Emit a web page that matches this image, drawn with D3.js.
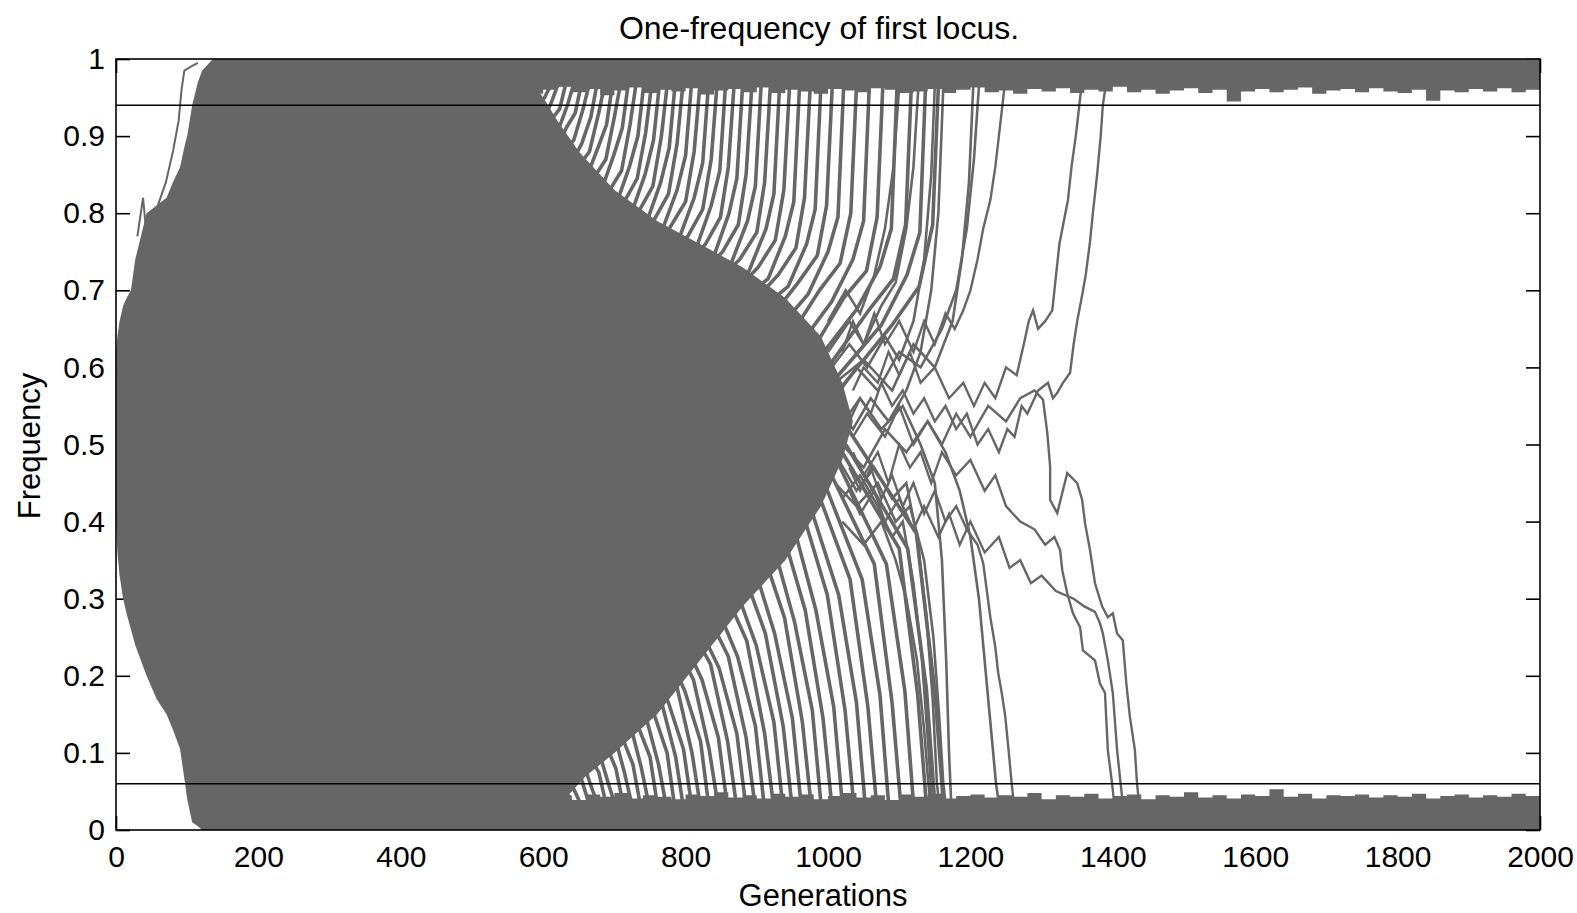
<!DOCTYPE html>
<html>
<head>
<meta charset="utf-8">
<script src="https://cdn.jsdelivr.net/npm/d3@7"></script>
<style>
body { margin: 0; background: #fff; }
text { font-family: "Liberation Sans", Arial, sans-serif; fill: #000; }
</style>
</head>
<body>
<svg id="chart" width="1577" height="913"></svg>
<script>
// axis ticks
var genTicks = [0, 200, 400, 600, 800, 1000, 1200, 1400, 1600, 1800, 2000];
var freqTicks = [0, 0.1, 0.2, 0.3, 0.4, 0.5, 0.6, 0.7, 0.8, 0.9, 1];
var thresholds = [0.06, 0.94];

// envelope of the dense bundle of runs
var coreGens = [0, 2, 5, 10, 15, 21, 27, 35, 43, 57, 71, 80, 90, 97, 100, 107, 115, 121, 136,
                560, 600, 620, 650, 660, 700, 760, 820, 880, 940, 990, 1020, 1035];
var coreHigh = [0.62, 0.64, 0.66, 0.68, 0.69, 0.70, 0.74, 0.77, 0.80, 0.81, 0.82, 0.84, 0.86, 0.89, 0.90, 0.94, 0.97, 0.985, 1,
                1, 0.95, 0.92, 0.88, 0.87, 0.83, 0.79, 0.76, 0.73, 0.69, 0.64, 0.58, 0.53];
var coreLow  = [0.40, 0.36, 0.33, 0.30, 0.28, 0.26, 0.24, 0.22, 0.20, 0.17, 0.15, 0.13, 0.105, 0.06, 0.04, 0.01, 0.005, 0, 0,
                0, 0, 0.03, 0.06, 0.07, 0.10, 0.15, 0.22, 0.29, 0.35, 0.42, 0.48, 0.53];

// fixed runs: edge of the band near 1 and near 0, every 20 generations from 540
var bandStart = 540, bandStep = 20;
var topEdge = [0.958,0.962,0.955,0.960,0.964,0.957,0.961,0.953,0.959,0.963,
               0.956,0.960,0.958,0.962,0.954,0.959,0.961,0.957,0.963,0.956,
               0.960,0.958,0.955,0.961,0.959,0.957,0.962,0.960,0.956,0.958,
               0.961,0.956,0.960,0.963,0.957,0.959,0.955,0.961,0.958,0.962,
               0.956,0.960,0.958,0.964,0.957,0.960,0.955,0.959,0.962,0.956,
               0.960,0.945,0.958,0.961,0.957,0.960,0.963,0.955,0.959,0.961,
               0.957,0.962,0.958,0.956,0.960,0.946,0.959,0.957,0.961,0.958,
               0.962,0.957,0.960,0.958];
var bottomEdge = [0.044,0.040,0.047,0.042,0.045,0.039,0.046,0.043,0.048,0.041,
                  0.045,0.043,0.040,0.046,0.044,0.049,0.042,0.045,0.041,0.047,
                  0.043,0.046,0.040,0.044,0.048,0.042,0.045,0.039,0.046,0.043,
                  0.047,0.041,0.044,0.046,0.042,0.045,0.043,0.048,0.040,0.045,
                  0.043,0.047,0.041,0.044,0.046,0.040,0.045,0.043,0.049,0.042,
                  0.045,0.041,0.046,0.044,0.053,0.043,0.047,0.041,0.045,0.044,
                  0.046,0.042,0.045,0.043,0.047,0.041,0.044,0.046,0.042,0.045,
                  0.043,0.047,0.044,0.046];

// left outlier run near the top
var earlyRun = [[30,0.77],[38,0.82],[42,0.78],[55,0.80],[70,0.84],[80,0.88],[88,0.92],[92,0.96],[96,0.985],[105,0.99],[115,0.995]];

// runs leaving the bundle upwards [generation, frequency]
var riseToOne = [
  [[540,0.90],[570,0.92],[590,0.935],[602,0.95],[610,0.965]],
  [[550,0.88],[580,0.905],[598,0.915],[612,0.945],[620,0.965]],
  [[560,0.87],[590,0.89],[610,0.92],[623,0.935],[631,0.965]],
  [[570,0.86],[600,0.885],[620,0.905],[634,0.94],[642,0.965]],
  [[580,0.85],[612,0.87],[632,0.91],[645,0.93],[653,0.965]],
  [[590,0.84],[622,0.87],[643,0.895],[656,0.935],[664,0.965]],
  [[600,0.83],[634,0.855],[654,0.89],[667,0.925],[675,0.965]],
  [[610,0.82],[645,0.855],[665,0.88],[678,0.93],[686,0.965]],
  [[620,0.81],[656,0.835],[677,0.885],[689,0.915],[697,0.965]],
  [[630,0.80],[667,0.84],[688,0.87],[700,0.925],[708,0.965]],
  [[640,0.79],[678,0.82],[699,0.875],[711,0.91],[719,0.965]],
  [[650,0.78],[690,0.825],[710,0.855],[722,0.915],[730,0.965]],
  [[660,0.775],[700,0.805],[721,0.86],[733,0.90],[741,0.965]],
  [[670,0.77],[711,0.81],[732,0.845],[744,0.905],[752,0.965]],
  [[680,0.765],[722,0.795],[743,0.85],[755,0.895],[763,0.965]],
  [[690,0.76],[733,0.80],[754,0.835],[766,0.90],[774,0.965]],
  [[700,0.755],[744,0.785],[765,0.84],[777,0.885],[785,0.965]],
  [[710,0.75],[755,0.79],[776,0.825],[788,0.89],[796,0.965]],
  [[720,0.745],[766,0.775],[788,0.83],[800,0.875],[808,0.965]],
  [[730,0.74],[777,0.78],[800,0.815],[812,0.88],[820,0.965]],
  [[745,0.735],[790,0.765],[812,0.82],[824,0.865],[832,0.965]],
  [[760,0.73],[803,0.77],[824,0.805],[836,0.87],[844,0.965]],
  [[775,0.725],[815,0.755],[836,0.81],[848,0.855],[856,0.965]],
  [[790,0.72],[828,0.76],[849,0.795],[860,0.86],[868,0.965]],
  [[800,0.715],[840,0.745],[861,0.80],[872,0.845],[880,0.965]],
  [[810,0.71],[852,0.75],[874,0.785],[885,0.85],[893,0.965]],
  [[820,0.705],[864,0.735],[887,0.79],[898,0.835],[906,0.965]],
  [[830,0.70],[876,0.74],[900,0.775],[911,0.84],[919,0.965]],
  [[845,0.695],[889,0.725],[913,0.78],[924,0.825],[932,0.965]],
  [[860,0.69],[902,0.73],[926,0.765],[938,0.83],[946,0.965]],
  [[875,0.685],[916,0.715],[940,0.77],[952,0.815],[960,0.965]],
  [[890,0.68],[930,0.72],[955,0.755],[967,0.82],[975,0.965]],
  [[905,0.675],[944,0.705],[970,0.76],[982,0.805],[990,0.965]],
  [[920,0.665],[958,0.71],[985,0.745],[998,0.81],[1006,0.965]],
  [[935,0.655],[972,0.695],[1000,0.75],[1014,0.795],[1022,0.965]],
  [[950,0.645],[988,0.70],[1017,0.735],[1032,0.80],[1040,0.965]],
  [[965,0.635],[1005,0.685],[1035,0.74],[1050,0.79],[1058,0.965]],
  [[980,0.625],[1022,0.69],[1054,0.725],[1069,0.795],[1077,0.965]],
  [[990,0.615],[1040,0.675],[1073,0.73],[1089,0.78],[1097,0.965]],
  [[1000,0.60],[1058,0.675],[1092,0.715],[1109,0.785],[1117,0.965]],
  [[1010,0.585],[1075,0.655],[1111,0.72],[1129,0.775],[1137,0.965]],
  [[1015,0.57],[1090,0.655],[1128,0.705],[1147,0.785],[1155,0.965]]
];

// runs leaving the bundle downwards
var fallToZero = [
  [[600,0.10],[615,0.08],[630,0.055],[640,0.035]],
  [[610,0.11],[627,0.09],[642,0.055],[652,0.035]],
  [[620,0.12],[639,0.085],[654,0.065],[664,0.035]],
  [[630,0.13],[650,0.105],[666,0.06],[676,0.035]],
  [[640,0.14],[662,0.10],[678,0.075],[688,0.035]],
  [[650,0.15],[674,0.115],[690,0.065],[700,0.035]],
  [[660,0.16],[686,0.115],[702,0.08],[712,0.035]],
  [[670,0.17],[698,0.13],[714,0.075],[724,0.035]],
  [[680,0.18],[709,0.125],[726,0.085],[736,0.035]],
  [[690,0.19],[720,0.145],[738,0.08],[748,0.035]],
  [[700,0.20],[731,0.14],[750,0.095],[760,0.035]],
  [[710,0.21],[742,0.155],[762,0.085],[772,0.035]],
  [[720,0.22],[754,0.155],[774,0.10],[784,0.035]],
  [[730,0.23],[765,0.17],[786,0.095],[796,0.035]],
  [[740,0.24],[776,0.165],[797,0.105],[808,0.035]],
  [[750,0.25],[788,0.185],[809,0.10],[820,0.035]],
  [[760,0.26],[799,0.18],[821,0.115],[832,0.035]],
  [[770,0.27],[811,0.195],[833,0.105],[845,0.035]],
  [[780,0.28],[823,0.195],[846,0.12],[858,0.035]],
  [[790,0.29],[835,0.215],[859,0.115],[871,0.035]],
  [[800,0.30],[847,0.21],[872,0.125],[884,0.035]],
  [[815,0.31],[860,0.225],[885,0.12],[897,0.035]],
  [[830,0.32],[873,0.225],[898,0.135],[910,0.035]],
  [[845,0.33],[886,0.245],[911,0.125],[923,0.035]],
  [[860,0.34],[899,0.24],[924,0.14],[936,0.035]],
  [[875,0.35],[912,0.255],[937,0.135],[949,0.035]],
  [[890,0.36],[925,0.255],[950,0.145],[962,0.035]],
  [[905,0.37],[939,0.275],[964,0.14],[976,0.035]],
  [[920,0.38],[953,0.27],[978,0.155],[990,0.035]],
  [[935,0.39],[968,0.285],[993,0.145],[1005,0.035]],
  [[950,0.40],[983,0.285],[1008,0.16],[1020,0.035]],
  [[965,0.41],[999,0.305],[1024,0.155],[1036,0.035]],
  [[975,0.42],[1015,0.305],[1040,0.165],[1052,0.035]],
  [[985,0.44],[1031,0.325],[1056,0.16],[1068,0.035]],
  [[995,0.45],[1048,0.325],[1073,0.175],[1085,0.035]],
  [[1005,0.46],[1065,0.345],[1090,0.165],[1102,0.035]],
  [[1012,0.48],[1082,0.345],[1108,0.18],[1120,0.035]],
  [[1020,0.49],[1100,0.365],[1126,0.175],[1138,0.035]],
  [[1025,0.50],[1112,0.365],[1138,0.185],[1150,0.035]],
  [[1028,0.52],[1124,0.385],[1150,0.18],[1162,0.035]]
];

// wandering runs in the middle
var middleRuns = [
  [[1000,0.62],[1030,0.66],[1050,0.63],[1075,0.68],[1095,0.71],[1110,0.78],[1120,0.86],[1127,0.965]],
  [[1010,0.56],[1040,0.60],[1070,0.57],[1100,0.62],[1130,0.60],[1160,0.65],[1180,0.70],[1195,0.78],[1205,0.87],[1212,0.965]],
  [[1020,0.50],[1050,0.47],[1080,0.52],[1110,0.49],[1140,0.53],[1165,0.49],[1185,0.44],[1200,0.38],[1212,0.30],[1222,0.20],[1230,0.12],[1236,0.06],[1240,0.035]],
  [[1010,0.45],[1040,0.42],[1070,0.45],[1095,0.40],[1115,0.42],[1135,0.35],[1148,0.25],[1156,0.15],[1162,0.06],[1165,0.035]],
  [[1015,0.52],[1045,0.56],[1075,0.52],[1105,0.55],[1130,0.50],[1150,0.45],[1160,0.35],[1166,0.22],[1170,0.10],[1173,0.035]],
  [[1000,0.66],[1025,0.70],[1045,0.67],[1065,0.72],[1080,0.78],[1092,0.86],[1100,0.965]],
  [[1020,0.40],[1050,0.37],[1075,0.40],[1095,0.35],[1110,0.30],[1125,0.22],[1135,0.13],[1141,0.06],[1144,0.035]],
  [[1010,0.58],[1050,0.61],[1090,0.57],[1120,0.63],[1150,0.60],[1175,0.66],[1188,0.74],[1198,0.84],[1204,0.965]],
  [[1010,0.55],[1035,0.52],[1060,0.56],[1085,0.53],[1110,0.57],[1130,0.62],[1145,0.70],[1155,0.80],[1162,0.965]],
  [[1015,0.48],[1040,0.44],[1065,0.47],[1090,0.43],[1110,0.45],[1125,0.38],[1138,0.28],[1147,0.17],[1153,0.06],[1156,0.035]],
  [[1005,0.60],[1030,0.63],[1055,0.60],[1080,0.64],[1100,0.61],[1120,0.66],[1135,0.74],[1145,0.85],[1150,0.965]],
  [[1020,0.43],[1045,0.46],[1070,0.42],[1090,0.38],[1105,0.40],[1120,0.32],[1132,0.22],[1140,0.12],[1146,0.035]]
];

// the last runs to fix
var lateRuns = [
  [[1030,0.53],[1045,0.56],[1060,0.54],[1075,0.58],[1090,0.55],[1105,0.57],[1120,0.54],[1135,0.56],[1150,0.53],[1165,0.55],[1180,0.52],[1195,0.54],[1210,0.50],[1225,0.52],[1240,0.49],[1252,0.52],[1262,0.51],[1272,0.55],[1280,0.54],[1295,0.57],[1309,0.58],[1316,0.56],[1322,0.567],[1330,0.58],[1340,0.593],[1345,0.63],[1350,0.66],[1357,0.694],[1362,0.72],[1368,0.763],[1372,0.80],[1378,0.85],[1383,0.90],[1386,0.94],[1390,0.965]],
  [[1035,0.57],[1050,0.60],[1070,0.58],[1085,0.62],[1100,0.59],[1115,0.62],[1130,0.58],[1150,0.60],[1170,0.56],[1190,0.58],[1205,0.55],[1220,0.58],[1235,0.56],[1250,0.60],[1265,0.59],[1275,0.63],[1282,0.66],[1288,0.674],[1295,0.65],[1305,0.66],[1315,0.674],[1318,0.70],[1325,0.76],[1337,0.817],[1342,0.86],[1348,0.90],[1353,0.94],[1356,0.965]],
  [[1020,0.62],[1035,0.66],[1050,0.63],[1065,0.67],[1080,0.63],[1100,0.66],[1120,0.62],[1135,0.66],[1150,0.63],[1165,0.67],[1178,0.65],[1190,0.674],[1200,0.70],[1210,0.74],[1218,0.78],[1228,0.817],[1235,0.86],[1240,0.90],[1245,0.94],[1248,0.965]],
  [[1035,0.49],[1050,0.46],[1070,0.49],[1085,0.45],[1100,0.50],[1115,0.47],[1130,0.49],[1145,0.45],[1160,0.49],[1180,0.46],[1200,0.48],[1220,0.44],[1235,0.46],[1250,0.42],[1270,0.40],[1290,0.39],[1305,0.37],[1318,0.38],[1326,0.363],[1329,0.337],[1336,0.307],[1344,0.281],[1354,0.263],[1358,0.233],[1375,0.22],[1382,0.19],[1389,0.178],[1393,0.104],[1399,0.06],[1402,0.035]],
  [[1030,0.44],[1045,0.41],[1065,0.44],[1080,0.40],[1100,0.43],[1120,0.39],[1135,0.42],[1155,0.38],[1170,0.41],[1185,0.37],[1200,0.40],[1220,0.36],[1240,0.38],[1255,0.34],[1270,0.35],[1285,0.32],[1300,0.33],[1320,0.31],[1345,0.30],[1360,0.29],[1375,0.283],[1382,0.268],[1386,0.255],[1393,0.22],[1400,0.178],[1406,0.104],[1411,0.06],[1414,0.035]],
  [[1035,0.51],[1055,0.54],[1080,0.51],[1100,0.55],[1120,0.50],[1140,0.53],[1160,0.50],[1180,0.54],[1200,0.51],[1225,0.55],[1250,0.53],[1270,0.56],[1290,0.57],[1302,0.558],[1308,0.515],[1312,0.471],[1312,0.428],[1322,0.411],[1336,0.463],[1350,0.45],[1357,0.428],[1361,0.398],[1368,0.363],[1375,0.32],[1385,0.29],[1393,0.276],[1400,0.281],[1406,0.255],[1414,0.246],[1419,0.19],[1424,0.147],[1431,0.104],[1434,0.06],[1437,0.035]],
  [[1030,0.47],[1045,0.44],[1060,0.47],[1075,0.43],[1090,0.46],[1105,0.42],[1120,0.45],[1135,0.41],[1150,0.44],[1165,0.40],[1180,0.42],[1195,0.39],[1210,0.37],[1218,0.346],[1223,0.311],[1228,0.276],[1235,0.237],[1239,0.204],[1244,0.178],[1249,0.147],[1254,0.10],[1258,0.06],[1261,0.035]]
];

var grey = "#666666";
var plotLeft = 116, plotRight = 1540, plotTop = 59, plotBottom = 830;

var svg = d3.select("#chart");

var x = d3.scaleLinear().domain([0, 2000]).range([plotLeft, plotRight]);
var y = d3.scaleLinear().domain([0, 1]).range([plotBottom, plotTop]);

// ticks first, the data covers them like in the original
svg.append("g")
    .attr("transform", "translate(0," + plotBottom + ")")
    .call(d3.axisBottom(x).tickValues(genTicks).tickSize(-14).tickPadding(16).tickFormat(d3.format("d")));
svg.append("g")
    .attr("transform", "translate(0," + plotTop + ")")
    .call(d3.axisTop(x).tickValues(genTicks).tickSize(-14).tickFormat(""));
svg.append("g")
    .attr("transform", "translate(" + plotLeft + ",0)")
    .call(d3.axisLeft(y).tickValues(freqTicks).tickSize(-14).tickPadding(11).tickFormat(d3.format("~g")));
svg.append("g")
    .attr("transform", "translate(" + plotRight + ",0)")
    .call(d3.axisRight(y).tickValues(freqTicks).tickSize(-14).tickFormat(""));

svg.selectAll(".domain").remove();
svg.selectAll(".tick line").attr("stroke", "#000").attr("stroke-width", 1.6);
svg.selectAll(".tick text").style("font-size", "30px").attr("fill", "#000");

svg.append("clipPath").attr("id", "plotClip")
  .append("rect")
    .attr("x", plotLeft).attr("y", plotTop)
    .attr("width", plotRight - plotLeft).attr("height", plotBottom - plotTop);

var plot = svg.append("g").attr("clip-path", "url(#plotClip)");

var bandGens = topEdge.map(function(d, i) { return bandStart + i * bandStep; });

var topBand = d3.area()
    .curve(d3.curveStepAfter)
    .x(function(d, i) { return x(bandGens[i]); })
    .y0(function(d) { return y(d); })
    .y1(y(1));
plot.append("path").attr("d", topBand(topEdge)).attr("fill", grey);

var bottomBand = d3.area()
    .curve(d3.curveStepAfter)
    .x(function(d, i) { return x(bandGens[i]); })
    .y0(y(0))
    .y1(function(d) { return y(d); });
plot.append("path").attr("d", bottomBand(bottomEdge)).attr("fill", grey);

var core = d3.area()
    .x(function(d, i) { return x(coreGens[i]); })
    .y0(function(d, i) { return y(coreLow[i]); })
    .y1(function(d, i) { return y(coreHigh[i]); });
plot.append("path").attr("d", core(coreGens)).attr("fill", grey);

var line = d3.line()
    .x(function(d) { return x(d[0]); })
    .y(function(d) { return y(d[1]); });

function drawRuns(runs, width) {
    plot.append("g").selectAll("path")
        .data(runs)
        .enter().append("path")
        .attr("d", line)
        .attr("fill", "none")
        .attr("stroke", grey)
        .attr("stroke-width", width);
}

drawRuns([earlyRun], 2);
drawRuns(riseToOne, 3.6);
drawRuns(fallToZero, 3.6);
drawRuns(middleRuns, 2.6);
drawRuns(lateRuns, 2.4);

// threshold lines
svg.append("g").selectAll("line")
    .data(thresholds)
    .enter().append("line")
    .attr("x1", plotLeft).attr("x2", plotRight)
    .attr("y1", function(d) { return y(d); })
    .attr("y2", function(d) { return y(d); })
    .attr("stroke", "#000")
    .attr("stroke-width", 1.3);

svg.append("rect")
    .attr("x", plotLeft).attr("y", plotTop)
    .attr("width", plotRight - plotLeft).attr("height", plotBottom - plotTop)
    .attr("fill", "none")
    .attr("stroke", "#000")
    .attr("stroke-width", 1.6);

svg.append("text")
    .attr("x", 819).attr("y", 39)
    .attr("text-anchor", "middle")
    .style("font-size", "32px")
    .text("One-frequency of first locus.");

svg.append("text")
    .attr("x", 823).attr("y", 906)
    .attr("text-anchor", "middle")
    .style("font-size", "31px")
    .text("Generations");

svg.append("text")
    .attr("transform", "translate(40,446) rotate(-90)")
    .attr("text-anchor", "middle")
    .style("font-size", "31px")
    .text("Frequency");
</script>
</body>
</html>
